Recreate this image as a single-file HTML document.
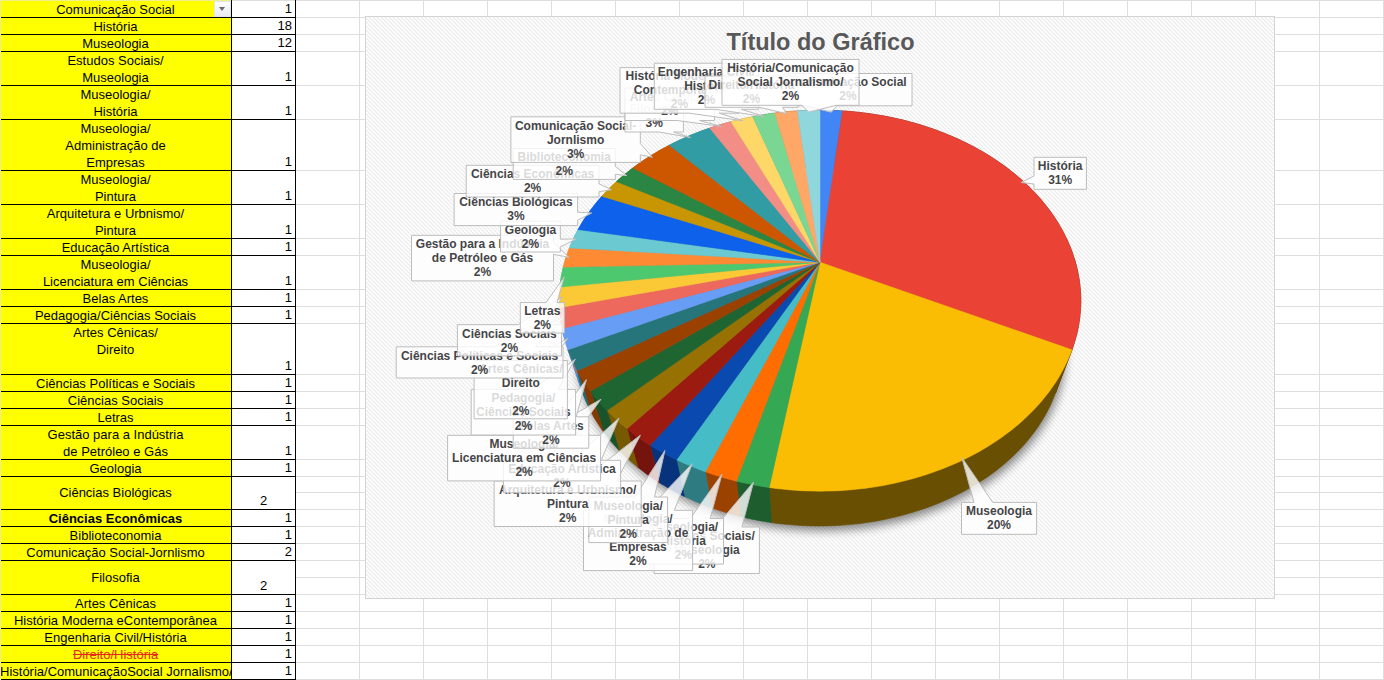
<!DOCTYPE html>
<html><head><meta charset="utf-8"><title>Planilha</title>
<style>
html,body{margin:0;padding:0;background:#fff;}
body{width:1384px;height:680px;position:relative;overflow:hidden;font-family:"Liberation Sans",Arial,sans-serif;}
.g{position:absolute;background:#dedede;}
.ca{position:absolute;left:0;width:231px;background:#ffff00;overflow:hidden;text-align:center;font-size:13px;line-height:17px;color:#000;white-space:nowrap;}
.ca span{display:block;height:17px;}
.cb{position:absolute;left:232px;width:63px;background:#fff;font-size:13px;line-height:17px;color:#000;}
.cb span{position:absolute;bottom:0;right:3px;height:17px;}
.cb span.m{right:auto;left:0;width:63px;text-align:center;}
.bl{position:absolute;background:#000;}
svg{position:absolute;left:0;top:0;}
svg text{font-family:"Liberation Sans",Arial,sans-serif;}
</style></head><body>

<div class="g" style="left:0;top:0px;width:1384px;height:1px"></div>
<div class="g" style="left:0;top:17px;width:1384px;height:1px"></div>
<div class="g" style="left:0;top:34px;width:1384px;height:1px"></div>
<div class="g" style="left:0;top:51px;width:1384px;height:1px"></div>
<div class="g" style="left:0;top:85px;width:1384px;height:1px"></div>
<div class="g" style="left:0;top:119px;width:1384px;height:1px"></div>
<div class="g" style="left:0;top:170px;width:1384px;height:1px"></div>
<div class="g" style="left:0;top:204px;width:1384px;height:1px"></div>
<div class="g" style="left:0;top:238px;width:1384px;height:1px"></div>
<div class="g" style="left:0;top:255px;width:1384px;height:1px"></div>
<div class="g" style="left:0;top:289px;width:1384px;height:1px"></div>
<div class="g" style="left:0;top:306px;width:1384px;height:1px"></div>
<div class="g" style="left:0;top:323px;width:1384px;height:1px"></div>
<div class="g" style="left:0;top:374px;width:1384px;height:1px"></div>
<div class="g" style="left:0;top:391px;width:1384px;height:1px"></div>
<div class="g" style="left:0;top:408px;width:1384px;height:1px"></div>
<div class="g" style="left:0;top:425px;width:1384px;height:1px"></div>
<div class="g" style="left:0;top:459px;width:1384px;height:1px"></div>
<div class="g" style="left:0;top:476px;width:1384px;height:1px"></div>
<div class="g" style="left:0;top:492px;width:1384px;height:1px"></div>
<div class="g" style="left:0;top:509px;width:1384px;height:1px"></div>
<div class="g" style="left:0;top:526px;width:1384px;height:1px"></div>
<div class="g" style="left:0;top:543px;width:1384px;height:1px"></div>
<div class="g" style="left:0;top:560px;width:1384px;height:1px"></div>
<div class="g" style="left:0;top:577px;width:1384px;height:1px"></div>
<div class="g" style="left:0;top:594px;width:1384px;height:1px"></div>
<div class="g" style="left:0;top:611px;width:1384px;height:1px"></div>
<div class="g" style="left:0;top:628px;width:1384px;height:1px"></div>
<div class="g" style="left:0;top:645px;width:1384px;height:1px"></div>
<div class="g" style="left:0;top:662px;width:1384px;height:1px"></div>
<div class="g" style="left:0;top:679px;width:1384px;height:1px"></div>
<div class="g" style="left:359px;top:0;width:1px;height:680px"></div>
<div class="g" style="left:423px;top:0;width:1px;height:680px"></div>
<div class="g" style="left:487px;top:0;width:1px;height:680px"></div>
<div class="g" style="left:551px;top:0;width:1px;height:680px"></div>
<div class="g" style="left:615px;top:0;width:1px;height:680px"></div>
<div class="g" style="left:679px;top:0;width:1px;height:680px"></div>
<div class="g" style="left:743px;top:0;width:1px;height:680px"></div>
<div class="g" style="left:807px;top:0;width:1px;height:680px"></div>
<div class="g" style="left:871px;top:0;width:1px;height:680px"></div>
<div class="g" style="left:935px;top:0;width:1px;height:680px"></div>
<div class="g" style="left:999px;top:0;width:1px;height:680px"></div>
<div class="g" style="left:1063px;top:0;width:1px;height:680px"></div>
<div class="g" style="left:1127px;top:0;width:1px;height:680px"></div>
<div class="g" style="left:1191px;top:0;width:1px;height:680px"></div>
<div class="g" style="left:1255px;top:0;width:1px;height:680px"></div>
<div class="g" style="left:1319px;top:0;width:1px;height:680px"></div>
<div class="g" style="left:1383px;top:0;width:1px;height:680px"></div>
<div class="ca" style="top:1px;height:16px;"><span>Comunicação Social</span></div>
<div class="cb" style="top:1px;height:16px;"><span>1</span></div>
<div class="ca" style="top:18px;height:16px;"><span>História</span></div>
<div class="cb" style="top:18px;height:16px;"><span>18</span></div>
<div class="ca" style="top:35px;height:16px;"><span>Museologia</span></div>
<div class="cb" style="top:35px;height:16px;"><span>12</span></div>
<div class="ca" style="top:52px;height:33px;"><span>Estudos Sociais/</span><span>Museologia</span></div>
<div class="cb" style="top:52px;height:33px;"><span>1</span></div>
<div class="ca" style="top:86px;height:33px;"><span>Museologia/</span><span>História</span></div>
<div class="cb" style="top:86px;height:33px;"><span>1</span></div>
<div class="ca" style="top:120px;height:50px;"><span>Museologia/</span><span>Administração de</span><span>Empresas</span></div>
<div class="cb" style="top:120px;height:50px;"><span>1</span></div>
<div class="ca" style="top:171px;height:33px;"><span>Museologia/</span><span>Pintura</span></div>
<div class="cb" style="top:171px;height:33px;"><span>1</span></div>
<div class="ca" style="top:205px;height:33px;"><span>Arquitetura e Urbnismo/</span><span>Pintura</span></div>
<div class="cb" style="top:205px;height:33px;"><span>1</span></div>
<div class="ca" style="top:239px;height:16px;"><span>Educação Artística</span></div>
<div class="cb" style="top:239px;height:16px;"><span>1</span></div>
<div class="ca" style="top:256px;height:33px;"><span>Museologia/</span><span>Licenciatura em Ciências</span></div>
<div class="cb" style="top:256px;height:33px;"><span>1</span></div>
<div class="ca" style="top:290px;height:16px;"><span>Belas Artes</span></div>
<div class="cb" style="top:290px;height:16px;"><span>1</span></div>
<div class="ca" style="top:307px;height:16px;"><span>Pedagogia/Ciências Sociais</span></div>
<div class="cb" style="top:307px;height:16px;"><span>1</span></div>
<div class="ca" style="top:324px;height:50px;"><span>Artes Cênicas/</span><span>Direito</span><span>&nbsp;</span></div>
<div class="cb" style="top:324px;height:50px;"><span>1</span></div>
<div class="ca" style="top:375px;height:16px;"><span>Ciências Políticas e Sociais</span></div>
<div class="cb" style="top:375px;height:16px;"><span>1</span></div>
<div class="ca" style="top:392px;height:16px;"><span>Ciências Sociais</span></div>
<div class="cb" style="top:392px;height:16px;"><span>1</span></div>
<div class="ca" style="top:409px;height:16px;"><span>Letras</span></div>
<div class="cb" style="top:409px;height:16px;"><span>1</span></div>
<div class="ca" style="top:426px;height:33px;"><span>Gestão para a Indústria</span><span>de Petróleo e Gás</span></div>
<div class="cb" style="top:426px;height:33px;"><span>1</span></div>
<div class="ca" style="top:460px;height:16px;"><span>Geologia</span></div>
<div class="cb" style="top:460px;height:16px;"><span>1</span></div>
<div class="ca" style="top:477px;height:32px;"><span style="margin-top:7px">Ciências Biológicas</span></div>
<div class="cb" style="top:477px;height:32px;"><span class="m">2</span></div>
<div class="ca" style="top:510px;height:16px;font-weight:bold;"><span>Ciências Econômicas</span></div>
<div class="cb" style="top:510px;height:16px;"><span>1</span></div>
<div class="ca" style="top:527px;height:16px;"><span>Biblioteconomia</span></div>
<div class="cb" style="top:527px;height:16px;"><span>1</span></div>
<div class="ca" style="top:544px;height:16px;"><span>Comunicação Social-Jornlismo</span></div>
<div class="cb" style="top:544px;height:16px;"><span>2</span></div>
<div class="ca" style="top:561px;height:33px;"><span style="margin-top:8px">Filosofia</span></div>
<div class="cb" style="top:561px;height:33px;"><span class="m">2</span></div>
<div class="ca" style="top:595px;height:16px;"><span>Artes Cênicas</span></div>
<div class="cb" style="top:595px;height:16px;"><span>1</span></div>
<div class="ca" style="top:612px;height:16px;"><span>História Moderna eContemporânea</span></div>
<div class="cb" style="top:612px;height:16px;"><span>1</span></div>
<div class="ca" style="top:629px;height:16px;"><span>Engenharia Civil/História</span></div>
<div class="cb" style="top:629px;height:16px;"><span>1</span></div>
<div class="ca" style="top:646px;height:16px;"><span style="color:#e8261c;text-decoration:line-through">Direito/História</span></div>
<div class="cb" style="top:646px;height:16px;"><span>1</span></div>
<div class="ca" style="top:663px;height:16px;"><span>História/ComunicaçãoSocial Jornalismo/</span></div>
<div class="cb" style="top:663px;height:16px;"><span>1</span></div>
<div class="bl" style="left:0;top:17px;width:296px;height:1px"></div>
<div class="bl" style="left:0;top:34px;width:296px;height:1px"></div>
<div class="bl" style="left:0;top:51px;width:296px;height:1px"></div>
<div class="bl" style="left:0;top:85px;width:296px;height:1px"></div>
<div class="bl" style="left:0;top:119px;width:296px;height:1px"></div>
<div class="bl" style="left:0;top:170px;width:296px;height:1px"></div>
<div class="bl" style="left:0;top:204px;width:296px;height:1px"></div>
<div class="bl" style="left:0;top:238px;width:296px;height:1px"></div>
<div class="bl" style="left:0;top:255px;width:296px;height:1px"></div>
<div class="bl" style="left:0;top:289px;width:296px;height:1px"></div>
<div class="bl" style="left:0;top:306px;width:296px;height:1px"></div>
<div class="bl" style="left:0;top:323px;width:296px;height:1px"></div>
<div class="bl" style="left:0;top:374px;width:296px;height:1px"></div>
<div class="bl" style="left:0;top:391px;width:296px;height:1px"></div>
<div class="bl" style="left:0;top:408px;width:296px;height:1px"></div>
<div class="bl" style="left:0;top:425px;width:296px;height:1px"></div>
<div class="bl" style="left:0;top:459px;width:296px;height:1px"></div>
<div class="bl" style="left:0;top:476px;width:296px;height:1px"></div>
<div class="bl" style="left:0;top:509px;width:296px;height:1px"></div>
<div class="bl" style="left:0;top:526px;width:296px;height:1px"></div>
<div class="bl" style="left:0;top:543px;width:296px;height:1px"></div>
<div class="bl" style="left:0;top:560px;width:296px;height:1px"></div>
<div class="bl" style="left:0;top:594px;width:296px;height:1px"></div>
<div class="bl" style="left:0;top:611px;width:296px;height:1px"></div>
<div class="bl" style="left:0;top:628px;width:296px;height:1px"></div>
<div class="bl" style="left:0;top:645px;width:296px;height:1px"></div>
<div class="bl" style="left:0;top:662px;width:296px;height:1px"></div>
<div class="bl" style="left:0;top:679px;width:296px;height:1px"></div>
<div class="bl" style="left:231px;top:0;width:1px;height:680px"></div>
<div class="bl" style="left:295px;top:0;width:1px;height:680px"></div>
<div style="position:absolute;left:214px;top:1px;width:17px;height:16px;background:linear-gradient(#ffffff,#e9ebf0);border:1px solid #e3e5ea;box-sizing:border-box"></div>
<div style="position:absolute;left:219px;top:7px;width:0;height:0;border-left:3.5px solid transparent;border-right:3.5px solid transparent;border-top:4px solid #6a6a6a"></div><div style="position:absolute;left:0;top:0;width:1px;height:680px;background:#e9e9a8"></div><div style="position:absolute;left:0;top:0;width:231px;height:1px;background:#f1f18a"></div>
<svg width="1384" height="680" viewBox="0 0 1384 680">
<defs>
<pattern id="hatch" width="4" height="4" patternUnits="userSpaceOnUse">
<rect width="4" height="4" fill="#ffffff"/>
<path d="M-1,-1 L5,5 M-1,3 L1,5 M3,-1 L5,1" stroke="#ebebeb" stroke-width="1.2"/>
</pattern>
<filter id="sh" x="-20%" y="-20%" width="140%" height="140%"><feGaussianBlur stdDeviation="5"/></filter>
</defs>
<rect x="365.5" y="16.5" width="909" height="582" fill="url(#hatch)" stroke="#d4d4d4" stroke-width="1"/>
<path d="M821.0,173.6 L828.0,173.7 L834.9,173.9 L841.9,174.3 L848.8,174.8 L855.7,175.4 L862.6,176.2 L869.5,177.2 L876.3,178.3 L883.1,179.5 L889.9,180.9 L896.6,182.4 L903.3,184.0 L909.9,185.8 L916.4,187.8 L922.9,189.9 L929.4,192.1 L935.7,194.5 L942.0,197.0 L948.2,199.7 L954.3,202.5 L960.4,205.5 L966.3,208.6 L972.1,211.8 L977.8,215.2 L983.4,218.7 L988.9,222.4 L994.2,226.2 L999.4,230.1 L1004.5,234.2 L1009.4,238.4 L1014.2,242.7 L1018.8,247.2 L1023.2,251.8 L1027.5,256.5 L1031.6,261.4 L1035.4,266.4 L1039.1,271.5 L1042.6,276.7 L1045.9,282.0 L1048.9,287.5 L1051.7,293.0 L1054.3,298.7 L1056.7,304.4 L1058.7,310.3 L1060.6,316.2 L1062.1,322.2 L1063.4,328.3 L1064.4,334.5 L1065.1,340.7 L1065.5,347.0 L1065.6,353.4 L1065.4,359.8 L1064.9,366.2 L1064.0,372.7 L1062.8,379.2 L1061.3,385.7 L1059.5,392.1 L1057.3,398.6 L1054.7,405.1 L1051.8,411.5 L1048.5,417.9 L1044.9,424.2 L1040.9,430.5 L1036.6,436.7 L1031.9,442.8 L1026.9,448.8 L1021.5,454.7 L1015.7,460.4 L1009.6,466.1 L1003.2,471.5 L996.4,476.8 L989.3,481.9 L981.9,486.9 L974.2,491.6 L966.2,496.1 L957.9,500.4 L949.3,504.4 L940.5,508.2 L931.4,511.7 L922.1,515.0 L912.6,518.0 L903.0,520.7 L893.1,523.0 L883.1,525.1 L872.9,526.9 L862.7,528.4 L852.3,529.5 L841.9,530.3 L831.5,530.8 L821.0,531.0 L810.5,530.8 L800.1,530.3 L789.7,529.5 L779.3,528.4 L769.1,526.9 L758.9,525.1 L748.9,523.0 L739.0,520.7 L729.4,518.0 L719.9,515.0 L710.6,511.7 L701.5,508.2 L692.7,504.4 L684.1,500.4 L675.8,496.1 L667.8,491.6 L660.1,486.9 L652.7,481.9 L645.6,476.8 L638.8,471.5 L632.4,466.1 L626.3,460.4 L620.5,454.7 L615.1,448.8 L610.1,442.8 L605.4,436.7 L601.1,430.5 L597.1,424.2 L593.5,417.9 L590.2,411.5 L587.3,405.1 L584.7,398.6 L582.5,392.1 L580.7,385.7 L579.2,379.2 L578.0,372.7 L577.1,366.2 L576.6,359.8 L576.4,353.4 L576.5,347.0 L576.9,340.7 L577.6,334.5 L578.6,328.3 L579.9,322.2 L581.4,316.2 L583.3,310.3 L585.3,304.4 L587.7,298.7 L590.3,293.0 L593.1,287.5 L596.1,282.0 L599.4,276.7 L602.9,271.5 L606.6,266.4 L610.4,261.4 L614.5,256.5 L618.8,251.8 L623.2,247.2 L627.8,242.7 L632.6,238.4 L637.5,234.2 L642.6,230.1 L647.8,226.2 L653.1,222.4 L658.6,218.7 L664.2,215.2 L669.9,211.8 L675.7,208.6 L681.6,205.5 L687.7,202.5 L693.8,199.7 L700.0,197.0 L706.3,194.5 L712.6,192.1 L719.1,189.9 L725.6,187.8 L732.1,185.8 L738.7,184.0 L745.4,182.4 L752.1,180.9 L758.9,179.5 L765.7,178.3 L772.5,177.2 L779.4,176.2 L786.3,175.4 L793.2,174.8 L800.1,174.3 L807.1,173.9 L814.0,173.7Z" fill="#000" opacity="0.45" filter="url(#sh)"/>
<path d="M820.0,110.2 L823.8,110.2 L827.5,110.3 L831.3,110.4 L835.1,110.5 L838.8,110.7 L842.6,110.9 L840.2,169.3 L836.7,169.1 L833.1,168.9 L829.6,168.8 L826.1,168.7 L822.5,168.7 L819.0,168.6Z" fill="#1c3867" stroke="#1c3867" stroke-width="0.6"/>
<path d="M842.6,110.9 L846.8,111.2 L851.1,111.6 L855.3,112.0 L859.5,112.4 L863.7,112.9 L867.9,113.5 L872.1,114.1 L876.2,114.7 L880.4,115.4 L884.5,116.1 L888.7,116.9 L892.8,117.8 L896.9,118.7 L901.0,119.6 L905.1,120.6 L909.1,121.7 L913.2,122.8 L917.2,123.9 L921.2,125.1 L925.2,126.4 L929.1,127.7 L933.0,129.0 L937.0,130.4 L940.8,131.9 L944.7,133.4 L948.5,135.0 L952.3,136.6 L956.1,138.2 L959.8,139.9 L963.5,141.7 L967.2,143.5 L970.8,145.3 L974.4,147.2 L978.0,149.2 L981.5,151.2 L985.0,153.2 L988.5,155.3 L991.9,157.5 L995.3,159.7 L998.6,161.9 L1001.9,164.2 L1005.1,166.5 L1008.3,168.9 L1011.4,171.4 L1014.5,173.8 L1017.6,176.4 L1020.6,178.9 L1023.5,181.6 L1026.4,184.2 L1029.2,187.0 L1031.9,189.7 L1034.7,192.5 L1037.3,195.4 L1039.9,198.3 L1042.4,201.2 L1044.8,204.2 L1047.2,207.2 L1049.5,210.3 L1051.8,213.4 L1054.0,216.6 L1056.1,219.8 L1058.1,223.0 L1060.0,226.3 L1061.9,229.6 L1063.7,232.9 L1065.4,236.3 L1067.1,239.7 L1068.6,243.2 L1070.1,246.7 L1071.5,250.2 L1072.7,253.8 L1073.9,257.4 L1075.1,261.0 L1076.1,264.6 L1077.0,268.3 L1077.8,272.0 L1078.5,275.8 L1079.2,279.5 L1079.7,283.3 L1080.1,287.1 L1080.4,290.9 L1080.7,294.8 L1080.8,298.7 L1080.8,302.5 L1080.7,306.4 L1080.4,310.4 L1080.1,314.3 L1079.7,318.2 L1079.1,322.2 L1078.5,326.1 L1077.7,330.1 L1076.8,334.0 L1075.7,338.0 L1074.6,341.9 L1073.3,345.9 L1072.0,349.8 L1055.3,393.4 L1056.6,389.7 L1057.8,386.0 L1058.9,382.3 L1059.8,378.6 L1060.7,374.9 L1061.4,371.1 L1062.1,367.4 L1062.6,363.7 L1063.0,360.0 L1063.3,356.4 L1063.5,352.7 L1063.6,349.0 L1063.6,345.4 L1063.5,341.8 L1063.3,338.2 L1063.0,334.6 L1062.6,331.0 L1062.1,327.5 L1061.5,323.9 L1060.8,320.4 L1060.1,316.9 L1059.2,313.5 L1058.2,310.1 L1057.2,306.7 L1056.1,303.3 L1054.9,300.0 L1053.6,296.6 L1052.2,293.4 L1050.7,290.1 L1049.2,286.9 L1047.6,283.7 L1045.9,280.6 L1044.2,277.5 L1042.3,274.4 L1040.4,271.4 L1038.5,268.4 L1036.4,265.4 L1034.3,262.5 L1032.1,259.6 L1029.9,256.8 L1027.6,254.0 L1025.2,251.2 L1022.8,248.5 L1020.3,245.8 L1017.8,243.2 L1015.2,240.6 L1012.6,238.1 L1009.9,235.6 L1007.1,233.1 L1004.3,230.7 L1001.5,228.3 L998.6,226.0 L995.6,223.7 L992.6,221.5 L989.6,219.3 L986.5,217.1 L983.4,215.0 L980.2,213.0 L977.0,210.9 L973.8,209.0 L970.5,207.0 L967.2,205.2 L963.9,203.3 L960.5,201.6 L957.1,199.8 L953.6,198.1 L950.2,196.5 L946.6,194.9 L943.1,193.3 L939.5,191.8 L936.0,190.4 L932.3,189.0 L928.7,187.6 L925.0,186.3 L921.4,185.0 L917.6,183.8 L913.9,182.6 L910.2,181.5 L906.4,180.4 L902.6,179.4 L898.8,178.4 L895.0,177.5 L891.1,176.6 L887.3,175.7 L883.4,174.9 L879.5,174.2 L875.6,173.5 L871.7,172.8 L867.8,172.2 L863.9,171.7 L860.0,171.2 L856.0,170.7 L852.1,170.3 L848.1,169.9 L844.2,169.6 L840.2,169.3Z" fill="#621c16" stroke="#621c16" stroke-width="0.6"/>
<path d="M1072.0,349.8 L1070.4,353.8 L1068.8,357.7 L1067.1,361.6 L1065.2,365.6 L1063.2,369.4 L1061.1,373.3 L1058.8,377.2 L1056.5,381.0 L1054.0,384.8 L1051.3,388.6 L1048.6,392.4 L1045.7,396.1 L1042.7,399.8 L1039.6,403.4 L1036.4,407.0 L1033.0,410.6 L1029.5,414.1 L1025.9,417.6 L1022.2,421.0 L1018.4,424.4 L1014.4,427.7 L1010.3,430.9 L1006.1,434.1 L1001.8,437.3 L997.4,440.3 L992.9,443.3 L988.2,446.2 L983.5,449.1 L978.6,451.9 L973.7,454.6 L968.6,457.2 L963.5,459.7 L958.3,462.2 L952.9,464.6 L947.5,466.8 L942.0,469.0 L936.4,471.1 L930.8,473.1 L925.1,475.0 L919.3,476.8 L913.4,478.5 L907.5,480.1 L901.5,481.6 L895.4,483.0 L889.3,484.3 L883.2,485.5 L877.0,486.6 L870.8,487.5 L864.5,488.4 L858.2,489.1 L851.9,489.7 L845.5,490.3 L839.2,490.7 L832.8,490.9 L826.4,491.1 L820.0,491.2 L813.6,491.1 L807.2,490.9 L800.8,490.7 L794.5,490.3 L788.1,489.7 L781.8,489.1 L775.5,488.4 L769.2,487.5 L771.4,522.6 L777.3,523.4 L783.2,524.1 L789.1,524.6 L795.1,525.1 L801.0,525.5 L807.0,525.8 L813.0,525.9 L819.0,526.0 L825.0,525.9 L831.0,525.8 L837.0,525.5 L842.9,525.1 L848.9,524.6 L854.8,524.1 L860.7,523.4 L866.6,522.6 L872.4,521.7 L878.3,520.7 L884.0,519.6 L889.7,518.3 L895.4,517.0 L901.0,515.6 L906.6,514.1 L912.1,512.5 L917.5,510.8 L922.9,509.1 L928.2,507.2 L933.5,505.2 L938.6,503.2 L943.7,501.0 L948.7,498.8 L953.6,496.5 L958.4,494.1 L963.2,491.7 L967.8,489.1 L972.3,486.5 L976.8,483.8 L981.1,481.1 L985.4,478.3 L989.5,475.4 L993.6,472.5 L997.5,469.5 L1001.3,466.4 L1005.1,463.3 L1008.7,460.1 L1012.2,456.9 L1015.5,453.7 L1018.8,450.4 L1022.0,447.0 L1025.0,443.7 L1027.9,440.2 L1030.7,436.8 L1033.4,433.3 L1036.0,429.8 L1038.5,426.2 L1040.8,422.6 L1043.0,419.1 L1045.1,415.4 L1047.1,411.8 L1049.0,408.1 L1050.8,404.5 L1052.4,400.8 L1053.9,397.1 L1055.3,393.4Z" fill="#694f02" stroke="#694f02" stroke-width="0.6"/>
<path d="M769.2,487.5 L763.7,486.7 L758.2,485.7 L752.7,484.7 L747.3,483.6 L741.9,482.4 L736.5,481.2 L740.7,516.6 L745.7,517.8 L750.8,518.9 L755.9,519.9 L761.0,520.9 L766.2,521.8 L771.4,522.6Z" fill="#1d5d2e" stroke="#1d5d2e" stroke-width="0.6"/>
<path d="M736.5,481.2 L731.2,479.8 L726.0,478.4 L720.7,476.8 L715.6,475.2 L710.5,473.6 L705.4,471.8 L711.5,507.8 L716.3,509.5 L721.1,511.0 L725.9,512.5 L730.8,514.0 L735.7,515.3 L740.7,516.6Z" fill="#9b4201" stroke="#9b4201" stroke-width="0.6"/>
<path d="M705.4,471.8 L700.4,470.0 L695.5,468.1 L690.7,466.1 L685.9,464.1 L681.2,461.9 L676.5,459.7 L684.4,496.5 L688.8,498.5 L693.2,500.5 L697.7,502.5 L702.2,504.3 L706.9,506.1 L711.5,507.8Z" fill="#2e7c82" stroke="#2e7c82" stroke-width="0.6"/>
<path d="M676.5,459.7 L671.9,457.5 L667.4,455.2 L663.0,452.8 L658.7,450.3 L654.4,447.8 L650.2,445.3 L659.7,482.9 L663.7,485.3 L667.7,487.7 L671.7,490.0 L675.9,492.2 L680.1,494.4 L684.4,496.5Z" fill="#07337c" stroke="#07337c" stroke-width="0.6"/>
<path d="M650.2,445.3 L646.1,442.7 L642.1,440.0 L638.2,437.3 L634.4,434.5 L630.6,431.6 L627.0,428.8 L637.9,467.4 L641.4,470.1 L644.9,472.8 L648.5,475.4 L652.1,478.0 L655.9,480.5 L659.7,482.9Z" fill="#75140c" stroke="#75140c" stroke-width="0.6"/>
<path d="M627.0,428.8 L623.4,425.8 L619.9,422.9 L616.5,419.9 L613.3,416.8 L610.1,413.7 L607.0,410.6 L619.2,450.4 L622.1,453.3 L625.1,456.2 L628.2,459.1 L631.3,461.9 L634.6,464.7 L637.9,467.4Z" fill="#775902" stroke="#775902" stroke-width="0.6"/>
<path d="M607.0,410.6 L604.0,407.4 L601.1,404.2 L598.3,401.0 L595.6,397.7 L593.0,394.4 L590.5,391.1 L603.7,432.1 L606.1,435.2 L608.5,438.3 L611.0,441.4 L613.7,444.4 L616.4,447.4 L619.2,450.4Z" fill="#1a5329" stroke="#1a5329" stroke-width="0.6"/>
<path d="M590.5,391.1 L588.1,387.8 L585.7,384.4 L583.5,381.0 L581.4,377.6 L579.4,374.2 L577.5,370.7 L591.5,413.0 L593.3,416.2 L595.2,419.5 L597.2,422.6 L599.3,425.8 L601.4,429.0 L603.7,432.1Z" fill="#843800" stroke="#843800" stroke-width="0.6"/>
<path d="M577.5,370.7 L575.7,367.3 L574.0,363.8 L572.3,360.3 L570.8,356.8 L569.4,353.3 L568.0,349.8 L582.7,393.4 L583.9,396.7 L585.3,400.0 L586.7,403.3 L588.2,406.5 L589.8,409.8 L591.5,413.0Z" fill="#22686d" stroke="#22686d" stroke-width="0.6"/>
<path d="M568.0,349.8 L566.8,346.3 L565.7,342.8 L564.6,339.3 L563.7,335.8 L562.8,332.3 L562.1,328.7 L577.1,373.6 L577.8,376.9 L578.6,380.2 L579.5,383.5 L580.4,386.8 L581.5,390.1 L582.7,393.4Z" fill="#5f8fe0" stroke="#5f8fe0" stroke-width="0.6"/>
<path d="M562.1,328.7 L561.4,325.2 L560.8,321.7 L560.3,318.2 L559.9,314.7 L559.6,311.2 L559.4,307.7 L574.6,353.9 L574.8,357.2 L575.1,360.5 L575.4,363.7 L575.9,367.0 L576.4,370.3 L577.1,373.6Z" fill="#db6056" stroke="#db6056" stroke-width="0.6"/>
<path d="M559.4,307.7 L559.3,304.3 L559.2,300.8 L559.3,297.4 L559.4,293.9 L559.6,290.5 L559.9,287.1 L575.0,334.6 L574.7,337.8 L574.5,341.0 L574.4,344.2 L574.4,347.4 L574.4,350.7 L574.6,353.9Z" fill="#e8b932" stroke="#e8b932" stroke-width="0.6"/>
<path d="M559.9,287.1 L560.3,283.7 L560.7,280.4 L561.2,277.0 L561.9,273.7 L562.5,270.4 L563.3,267.1 L578.2,315.8 L577.5,318.9 L576.9,322.0 L576.3,325.1 L575.8,328.2 L575.4,331.4 L575.0,334.6Z" fill="#48b866" stroke="#48b866" stroke-width="0.6"/>
<path d="M563.3,267.1 L564.2,263.8 L565.1,260.6 L566.1,257.4 L567.1,254.2 L568.3,251.0 L569.5,247.9 L584.0,297.7 L582.9,300.7 L581.8,303.7 L580.8,306.7 L579.9,309.7 L579.0,312.7 L578.2,315.8Z" fill="#eb7f30" stroke="#eb7f30" stroke-width="0.6"/>
<path d="M569.5,247.9 L570.7,244.7 L572.1,241.6 L573.5,238.6 L574.9,235.6 L576.5,232.5 L578.1,229.6 L592.1,280.6 L590.6,283.4 L589.1,286.2 L587.8,289.0 L586.4,291.9 L585.2,294.8 L584.0,297.7Z" fill="#62bac1" stroke="#62bac1" stroke-width="0.6"/>
<path d="M578.1,229.6 L579.9,226.4 L581.8,223.2 L583.7,220.0 L585.8,216.9 L587.9,213.9 L590.0,210.9 L592.3,207.9 L594.6,204.9 L596.9,202.0 L599.4,199.2 L601.8,196.3 L614.4,249.4 L612.0,252.1 L609.8,254.8 L607.6,257.5 L605.4,260.2 L603.3,263.0 L601.3,265.9 L599.3,268.7 L597.4,271.7 L595.6,274.6 L593.8,277.6 L592.1,280.6Z" fill="#0d59d8" stroke="#0d59d8" stroke-width="0.6"/>
<path d="M601.8,196.3 L604.2,193.8 L606.5,191.3 L609.0,188.8 L611.4,186.3 L614.0,183.9 L616.5,181.6 L628.1,235.6 L625.7,237.8 L623.4,240.1 L621.1,242.3 L618.8,244.7 L616.5,247.0 L614.4,249.4Z" fill="#b58703" stroke="#b58703" stroke-width="0.6"/>
<path d="M616.5,181.6 L619.1,179.2 L621.8,176.9 L624.5,174.7 L627.2,172.5 L629.9,170.3 L632.8,168.1 L643.4,222.9 L640.7,225.0 L638.1,227.0 L635.6,229.1 L633.1,231.2 L630.6,233.4 L628.1,235.6Z" fill="#24753a" stroke="#24753a" stroke-width="0.6"/>
<path d="M632.8,168.1 L635.9,165.8 L639.0,163.6 L642.2,161.3 L645.4,159.2 L648.7,157.1 L652.0,155.0 L655.4,153.0 L658.8,151.0 L662.2,149.0 L665.7,147.2 L669.2,145.3 L677.5,201.6 L674.2,203.3 L671.0,205.1 L667.8,206.9 L664.6,208.7 L661.4,210.6 L658.3,212.6 L655.3,214.6 L652.2,216.6 L649.2,218.7 L646.3,220.8 L643.4,222.9Z" fill="#a94800" stroke="#a94800" stroke-width="0.6"/>
<path d="M669.2,145.3 L672.7,143.5 L676.2,141.8 L679.8,140.1 L683.5,138.4 L687.1,136.8 L690.8,135.2 L694.5,133.7 L698.2,132.3 L702.0,130.8 L705.8,129.5 L709.6,128.1 L715.4,185.4 L711.8,186.7 L708.3,188.0 L704.8,189.3 L701.3,190.7 L697.8,192.1 L694.4,193.6 L690.9,195.1 L687.5,196.6 L684.2,198.2 L680.8,199.9 L677.5,201.6Z" fill="#26757b" stroke="#26757b" stroke-width="0.6"/>
<path d="M709.6,128.1 L713.1,127.0 L716.6,125.8 L720.1,124.7 L723.7,123.7 L727.3,122.7 L730.9,121.7 L735.4,179.4 L732.0,180.3 L728.7,181.3 L725.3,182.3 L722.0,183.3 L718.7,184.3 L715.4,185.4Z" fill="#a5615b" stroke="#a5615b" stroke-width="0.6"/>
<path d="M730.9,121.7 L734.5,120.8 L738.1,119.9 L741.7,119.0 L745.4,118.2 L749.0,117.4 L752.7,116.7 L755.9,174.7 L752.4,175.4 L749.0,176.1 L745.6,176.9 L742.2,177.7 L738.8,178.5 L735.4,179.4Z" fill="#a08842" stroke="#a08842" stroke-width="0.6"/>
<path d="M752.7,116.7 L756.4,116.0 L760.1,115.3 L763.8,114.7 L767.5,114.1 L771.2,113.6 L774.9,113.1 L776.7,171.3 L773.2,171.8 L769.7,172.3 L766.3,172.8 L762.8,173.4 L759.3,174.0 L755.9,174.7Z" fill="#477c55" stroke="#477c55" stroke-width="0.6"/>
<path d="M774.9,113.1 L778.6,112.6 L782.4,112.2 L786.1,111.8 L789.9,111.5 L793.6,111.2 L797.4,110.9 L797.8,169.3 L794.3,169.6 L790.7,169.8 L787.2,170.2 L783.7,170.5 L780.2,170.9 L776.7,171.3Z" fill="#875936" stroke="#875936" stroke-width="0.6"/>
<path d="M797.4,110.9 L801.2,110.7 L804.9,110.5 L808.7,110.4 L812.5,110.3 L816.2,110.2 L820.0,110.2 L819.0,168.6 L815.5,168.7 L811.9,168.7 L808.4,168.8 L804.9,168.9 L801.3,169.1 L797.8,169.3Z" fill="#456769" stroke="#456769" stroke-width="0.6"/>
<path d="M820.0,262.2 L820.0,110.2 L823.8,110.2 L827.5,110.3 L831.3,110.4 L835.1,110.5 L838.8,110.7 L842.6,110.9Z" fill="#4285f4" stroke="#4285f4" stroke-width="0.5"/>
<path d="M820.0,262.2 L842.6,110.9 L846.8,111.2 L851.1,111.6 L855.3,112.0 L859.5,112.4 L863.7,112.9 L867.9,113.5 L872.1,114.1 L876.2,114.7 L880.4,115.4 L884.5,116.1 L888.7,116.9 L892.8,117.8 L896.9,118.7 L901.0,119.6 L905.1,120.6 L909.1,121.7 L913.2,122.8 L917.2,123.9 L921.2,125.1 L925.2,126.4 L929.1,127.7 L933.0,129.0 L937.0,130.4 L940.8,131.9 L944.7,133.4 L948.5,135.0 L952.3,136.6 L956.1,138.2 L959.8,139.9 L963.5,141.7 L967.2,143.5 L970.8,145.3 L974.4,147.2 L978.0,149.2 L981.5,151.2 L985.0,153.2 L988.5,155.3 L991.9,157.5 L995.3,159.7 L998.6,161.9 L1001.9,164.2 L1005.1,166.5 L1008.3,168.9 L1011.4,171.4 L1014.5,173.8 L1017.6,176.4 L1020.6,178.9 L1023.5,181.6 L1026.4,184.2 L1029.2,187.0 L1031.9,189.7 L1034.7,192.5 L1037.3,195.4 L1039.9,198.3 L1042.4,201.2 L1044.8,204.2 L1047.2,207.2 L1049.5,210.3 L1051.8,213.4 L1054.0,216.6 L1056.1,219.8 L1058.1,223.0 L1060.0,226.3 L1061.9,229.6 L1063.7,232.9 L1065.4,236.3 L1067.1,239.7 L1068.6,243.2 L1070.1,246.7 L1071.5,250.2 L1072.7,253.8 L1073.9,257.4 L1075.1,261.0 L1076.1,264.6 L1077.0,268.3 L1077.8,272.0 L1078.5,275.8 L1079.2,279.5 L1079.7,283.3 L1080.1,287.1 L1080.4,290.9 L1080.7,294.8 L1080.8,298.7 L1080.8,302.5 L1080.7,306.4 L1080.4,310.4 L1080.1,314.3 L1079.7,318.2 L1079.1,322.2 L1078.5,326.1 L1077.7,330.1 L1076.8,334.0 L1075.7,338.0 L1074.6,341.9 L1073.3,345.9 L1072.0,349.8Z" fill="#ea4335" stroke="#ea4335" stroke-width="0.5"/>
<path d="M820.0,262.2 L1072.0,349.8 L1070.4,353.8 L1068.8,357.7 L1067.1,361.6 L1065.2,365.6 L1063.2,369.4 L1061.1,373.3 L1058.8,377.2 L1056.5,381.0 L1054.0,384.8 L1051.3,388.6 L1048.6,392.4 L1045.7,396.1 L1042.7,399.8 L1039.6,403.4 L1036.4,407.0 L1033.0,410.6 L1029.5,414.1 L1025.9,417.6 L1022.2,421.0 L1018.4,424.4 L1014.4,427.7 L1010.3,430.9 L1006.1,434.1 L1001.8,437.3 L997.4,440.3 L992.9,443.3 L988.2,446.2 L983.5,449.1 L978.6,451.9 L973.7,454.6 L968.6,457.2 L963.5,459.7 L958.3,462.2 L952.9,464.6 L947.5,466.8 L942.0,469.0 L936.4,471.1 L930.8,473.1 L925.1,475.0 L919.3,476.8 L913.4,478.5 L907.5,480.1 L901.5,481.6 L895.4,483.0 L889.3,484.3 L883.2,485.5 L877.0,486.6 L870.8,487.5 L864.5,488.4 L858.2,489.1 L851.9,489.7 L845.5,490.3 L839.2,490.7 L832.8,490.9 L826.4,491.1 L820.0,491.2 L813.6,491.1 L807.2,490.9 L800.8,490.7 L794.5,490.3 L788.1,489.7 L781.8,489.1 L775.5,488.4 L769.2,487.5Z" fill="#fbbc04" stroke="#fbbc04" stroke-width="0.5"/>
<path d="M820.0,262.2 L769.2,487.5 L763.7,486.7 L758.2,485.7 L752.7,484.7 L747.3,483.6 L741.9,482.4 L736.5,481.2Z" fill="#34a853" stroke="#34a853" stroke-width="0.5"/>
<path d="M820.0,262.2 L736.5,481.2 L731.2,479.8 L726.0,478.4 L720.7,476.8 L715.6,475.2 L710.5,473.6 L705.4,471.8Z" fill="#ff6d01" stroke="#ff6d01" stroke-width="0.5"/>
<path d="M820.0,262.2 L705.4,471.8 L700.4,470.0 L695.5,468.1 L690.7,466.1 L685.9,464.1 L681.2,461.9 L676.5,459.7Z" fill="#46bdc6" stroke="#46bdc6" stroke-width="0.5"/>
<path d="M820.0,262.2 L676.5,459.7 L671.9,457.5 L667.4,455.2 L663.0,452.8 L658.7,450.3 L654.4,447.8 L650.2,445.3Z" fill="#0a49b0" stroke="#0a49b0" stroke-width="0.5"/>
<path d="M820.0,262.2 L650.2,445.3 L646.1,442.7 L642.1,440.0 L638.2,437.3 L634.4,434.5 L630.6,431.6 L627.0,428.8Z" fill="#9c1b10" stroke="#9c1b10" stroke-width="0.5"/>
<path d="M820.0,262.2 L627.0,428.8 L623.4,425.8 L619.9,422.9 L616.5,419.9 L613.3,416.8 L610.1,413.7 L607.0,410.6Z" fill="#977102" stroke="#977102" stroke-width="0.5"/>
<path d="M820.0,262.2 L607.0,410.6 L604.0,407.4 L601.1,404.2 L598.3,401.0 L595.6,397.7 L593.0,394.4 L590.5,391.1Z" fill="#1f6532" stroke="#1f6532" stroke-width="0.5"/>
<path d="M820.0,262.2 L590.5,391.1 L588.1,387.8 L585.7,384.4 L583.5,381.0 L581.4,377.6 L579.4,374.2 L577.5,370.7Z" fill="#9a4100" stroke="#9a4100" stroke-width="0.5"/>
<path d="M820.0,262.2 L577.5,370.7 L575.7,367.3 L574.0,363.8 L572.3,360.3 L570.8,356.8 L569.4,353.3 L568.0,349.8Z" fill="#26757b" stroke="#26757b" stroke-width="0.5"/>
<path d="M820.0,262.2 L568.0,349.8 L566.8,346.3 L565.7,342.8 L564.6,339.3 L563.7,335.8 L562.8,332.3 L562.1,328.7Z" fill="#689df6" stroke="#689df6" stroke-width="0.5"/>
<path d="M820.0,262.2 L562.1,328.7 L561.4,325.2 L560.8,321.7 L560.3,318.2 L559.9,314.7 L559.6,311.2 L559.4,307.7Z" fill="#ee695d" stroke="#ee695d" stroke-width="0.5"/>
<path d="M820.0,262.2 L559.4,307.7 L559.3,304.3 L559.2,300.8 L559.3,297.4 L559.4,293.9 L559.6,290.5 L559.9,287.1Z" fill="#fcc936" stroke="#fcc936" stroke-width="0.5"/>
<path d="M820.0,262.2 L559.9,287.1 L560.3,283.7 L560.7,280.4 L561.2,277.0 L561.9,273.7 L562.5,270.4 L563.3,267.1Z" fill="#4ec86f" stroke="#4ec86f" stroke-width="0.5"/>
<path d="M820.0,262.2 L563.3,267.1 L564.2,263.8 L565.1,260.6 L566.1,257.4 L567.1,254.2 L568.3,251.0 L569.5,247.9Z" fill="#ff8a34" stroke="#ff8a34" stroke-width="0.5"/>
<path d="M820.0,262.2 L569.5,247.9 L570.7,244.7 L572.1,241.6 L573.5,238.6 L574.9,235.6 L576.5,232.5 L578.1,229.6Z" fill="#6bcad1" stroke="#6bcad1" stroke-width="0.5"/>
<path d="M820.0,262.2 L578.1,229.6 L579.9,226.4 L581.8,223.2 L583.7,220.0 L585.8,216.9 L587.9,213.9 L590.0,210.9 L592.3,207.9 L594.6,204.9 L596.9,202.0 L599.4,199.2 L601.8,196.3Z" fill="#0e61ea" stroke="#0e61ea" stroke-width="0.5"/>
<path d="M820.0,262.2 L601.8,196.3 L604.2,193.8 L606.5,191.3 L609.0,188.8 L611.4,186.3 L614.0,183.9 L616.5,181.6Z" fill="#c99603" stroke="#c99603" stroke-width="0.5"/>
<path d="M820.0,262.2 L616.5,181.6 L619.1,179.2 L621.8,176.9 L624.5,174.7 L627.2,172.5 L629.9,170.3 L632.8,168.1Z" fill="#2a8642" stroke="#2a8642" stroke-width="0.5"/>
<path d="M820.0,262.2 L632.8,168.1 L635.9,165.8 L639.0,163.6 L642.2,161.3 L645.4,159.2 L648.7,157.1 L652.0,155.0 L655.4,153.0 L658.8,151.0 L662.2,149.0 L665.7,147.2 L669.2,145.3Z" fill="#cd5700" stroke="#cd5700" stroke-width="0.5"/>
<path d="M820.0,262.2 L669.2,145.3 L672.7,143.5 L676.2,141.8 L679.8,140.1 L683.5,138.4 L687.1,136.8 L690.8,135.2 L694.5,133.7 L698.2,132.3 L702.0,130.8 L705.8,129.5 L709.6,128.1Z" fill="#329ca4" stroke="#329ca4" stroke-width="0.5"/>
<path d="M820.0,262.2 L709.6,128.1 L713.1,127.0 L716.6,125.8 L720.1,124.7 L723.7,123.7 L727.3,122.7 L730.9,121.7Z" fill="#f28e86" stroke="#f28e86" stroke-width="0.5"/>
<path d="M820.0,262.2 L730.9,121.7 L734.5,120.8 L738.1,119.9 L741.7,119.0 L745.4,118.2 L749.0,117.4 L752.7,116.7Z" fill="#fdd768" stroke="#fdd768" stroke-width="0.5"/>
<path d="M820.0,262.2 L752.7,116.7 L756.4,116.0 L760.1,115.3 L763.8,114.7 L767.5,114.1 L771.2,113.6 L774.9,113.1Z" fill="#7ad693" stroke="#7ad693" stroke-width="0.5"/>
<path d="M820.0,262.2 L774.9,113.1 L778.6,112.6 L782.4,112.2 L786.1,111.8 L789.9,111.5 L793.6,111.2 L797.4,110.9Z" fill="#ffa767" stroke="#ffa767" stroke-width="0.5"/>
<path d="M820.0,262.2 L797.4,110.9 L801.2,110.7 L804.9,110.5 L808.7,110.4 L812.5,110.3 L816.2,110.2 L820.0,110.2Z" fill="#90d7dd" stroke="#90d7dd" stroke-width="0.5"/>
<text x="820.5" y="49.5" text-anchor="middle" font-size="23.5" font-weight="bold" fill="#58585a">Título do Gráfico</text>
<path d="M784.0,73.5 L912.0,73.5 L912.0,105.8 L837.3,105.8 L831.2,112.2 L805.3,105.8 L784.0,105.8Z" fill="#ffffff" fill-opacity="0.8" stroke="#bcbcbc" stroke-width="1" stroke-linejoin="miter"/>
<text x="848.0" y="86.3" text-anchor="middle" font-size="12" font-weight="bold" fill="#454548">Comunicação Social</text>
<text x="848.0" y="100.3" text-anchor="middle" font-size="12" font-weight="bold" fill="#454548">2%</text>
<path d="M1034.0,157.3 L1086.4,157.3 L1086.4,189.3 L1034.0,189.3 L1034.0,184.0 L1021.0,182.5 L1034.0,176.0Z" fill="#ffffff" fill-opacity="0.8" stroke="#bcbcbc" stroke-width="1" stroke-linejoin="miter"/>
<text x="1060.2" y="170.1" text-anchor="middle" font-size="12" font-weight="bold" fill="#454548">História</text>
<text x="1060.2" y="184.1" text-anchor="middle" font-size="12" font-weight="bold" fill="#454548">31%</text>
<path d="M961.5,502.4 L974.0,502.4 L961.8,457.4 L992.8,502.4 L1036.6,502.4 L1036.6,534.3 L961.5,534.3Z" fill="#ffffff" fill-opacity="0.8" stroke="#bcbcbc" stroke-width="1" stroke-linejoin="miter"/>
<text x="999.0" y="515.2" text-anchor="middle" font-size="12" font-weight="bold" fill="#454548">Museologia</text>
<text x="999.0" y="529.2" text-anchor="middle" font-size="12" font-weight="bold" fill="#454548">20%</text>
<path d="M654.1,527.0 L715.5,527.0 L753.5,482.1 L741.9,527.0 L759.4,527.0 L759.4,573.5 L654.1,573.5Z" fill="#ffffff" fill-opacity="0.8" stroke="#bcbcbc" stroke-width="1" stroke-linejoin="miter"/>
<text x="706.8" y="539.8" text-anchor="middle" font-size="12" font-weight="bold" fill="#454548">Estudos Sociais/</text>
<text x="706.8" y="553.8" text-anchor="middle" font-size="12" font-weight="bold" fill="#454548">Museologia</text>
<text x="706.8" y="567.8" text-anchor="middle" font-size="12" font-weight="bold" fill="#454548">2%</text>
<path d="M643.5,518.5 L690.2,518.5 L721.9,474.3 L710.2,518.5 L723.5,518.5 L723.5,564.1 L643.5,564.1Z" fill="#ffffff" fill-opacity="0.8" stroke="#bcbcbc" stroke-width="1" stroke-linejoin="miter"/>
<text x="683.5" y="531.3" text-anchor="middle" font-size="12" font-weight="bold" fill="#454548">Museologia/</text>
<text x="683.5" y="545.3" text-anchor="middle" font-size="12" font-weight="bold" fill="#454548">História</text>
<text x="683.5" y="559.3" text-anchor="middle" font-size="12" font-weight="bold" fill="#454548">2%</text>
<path d="M583.5,510.3 L647.1,510.3 L692.2,463.7 L674.4,510.3 L692.6,510.3 L692.6,570.6 L583.5,570.6Z" fill="#ffffff" fill-opacity="0.8" stroke="#bcbcbc" stroke-width="1" stroke-linejoin="miter"/>
<text x="638.0" y="523.1" text-anchor="middle" font-size="12" font-weight="bold" fill="#454548">Museologia/</text>
<text x="638.0" y="537.1" text-anchor="middle" font-size="12" font-weight="bold" fill="#454548">Administração de</text>
<text x="638.0" y="551.1" text-anchor="middle" font-size="12" font-weight="bold" fill="#454548">Empresas</text>
<text x="638.0" y="565.1" text-anchor="middle" font-size="12" font-weight="bold" fill="#454548">2%</text>
<path d="M588.8,497.0 L634.8,497.0 L664.9,450.5 L654.5,497.0 L667.6,497.0 L667.6,542.6 L588.8,542.6Z" fill="#ffffff" fill-opacity="0.8" stroke="#bcbcbc" stroke-width="1" stroke-linejoin="miter"/>
<text x="628.2" y="509.8" text-anchor="middle" font-size="12" font-weight="bold" fill="#454548">Museologia/</text>
<text x="628.2" y="523.8" text-anchor="middle" font-size="12" font-weight="bold" fill="#454548">Pintura</text>
<text x="628.2" y="537.8" text-anchor="middle" font-size="12" font-weight="bold" fill="#454548">2%</text>
<path d="M494.1,481.0 L579.9,481.0 L640.4,435.2 L616.7,481.0 L641.2,481.0 L641.2,526.5 L494.1,526.5Z" fill="#ffffff" fill-opacity="0.8" stroke="#bcbcbc" stroke-width="1" stroke-linejoin="miter"/>
<text x="567.7" y="493.8" text-anchor="middle" font-size="12" font-weight="bold" fill="#454548">Arquitetura e Urbnismo/</text>
<text x="567.7" y="507.8" text-anchor="middle" font-size="12" font-weight="bold" fill="#454548">Pintura</text>
<text x="567.7" y="521.8" text-anchor="middle" font-size="12" font-weight="bold" fill="#454548">2%</text>
<path d="M503.5,460.3 L571.8,460.3 L619.0,418.0 L601.1,460.3 L620.6,460.3 L620.6,492.8 L503.5,492.8Z" fill="#ffffff" fill-opacity="0.8" stroke="#bcbcbc" stroke-width="1" stroke-linejoin="miter"/>
<text x="562.0" y="473.1" text-anchor="middle" font-size="12" font-weight="bold" fill="#454548">Educação Artística</text>
<text x="562.0" y="487.1" text-anchor="middle" font-size="12" font-weight="bold" fill="#454548">2%</text>
<path d="M447.6,435.3 L536.9,435.3 L600.9,399.3 L575.1,435.3 L600.6,435.3 L600.6,480.9 L447.6,480.9Z" fill="#ffffff" fill-opacity="0.8" stroke="#bcbcbc" stroke-width="1" stroke-linejoin="miter"/>
<text x="524.1" y="448.1" text-anchor="middle" font-size="12" font-weight="bold" fill="#454548">Museologia/</text>
<text x="524.1" y="462.1" text-anchor="middle" font-size="12" font-weight="bold" fill="#454548">Licenciatura em Ciências</text>
<text x="524.1" y="476.1" text-anchor="middle" font-size="12" font-weight="bold" fill="#454548">2%</text>
<path d="M513.2,416.8 L557.3,416.8 L586.4,379.6 L576.2,416.8 L588.8,416.8 L588.8,448.2 L513.2,448.2Z" fill="#ffffff" fill-opacity="0.8" stroke="#bcbcbc" stroke-width="1" stroke-linejoin="miter"/>
<text x="551.0" y="429.6" text-anchor="middle" font-size="12" font-weight="bold" fill="#454548">Belas Artes</text>
<text x="551.0" y="443.6" text-anchor="middle" font-size="12" font-weight="bold" fill="#454548">2%</text>
<path d="M471.2,389.4 L532.1,389.4 L575.3,359.2 L558.2,389.4 L575.6,389.4 L575.6,435.0 L471.2,435.0Z" fill="#ffffff" fill-opacity="0.8" stroke="#bcbcbc" stroke-width="1" stroke-linejoin="miter"/>
<text x="523.4" y="402.2" text-anchor="middle" font-size="12" font-weight="bold" fill="#454548">Pedagogia/</text>
<text x="523.4" y="416.2" text-anchor="middle" font-size="12" font-weight="bold" fill="#454548">Ciências Sociais</text>
<text x="523.4" y="430.2" text-anchor="middle" font-size="12" font-weight="bold" fill="#454548">2%</text>
<path d="M474.1,360.5 L528.5,360.5 L567.7,338.4 L551.9,360.5 L567.4,360.5 L567.4,418.8 L474.1,418.8Z" fill="#ffffff" fill-opacity="0.8" stroke="#bcbcbc" stroke-width="1" stroke-linejoin="miter"/>
<text x="520.8" y="373.3" text-anchor="middle" font-size="12" font-weight="bold" fill="#454548">Artes Cênicas/</text>
<text x="520.8" y="387.3" text-anchor="middle" font-size="12" font-weight="bold" fill="#454548">Direito</text>
<text x="520.8" y="415.3" text-anchor="middle" font-size="12" font-weight="bold" fill="#454548">2%</text>
<path d="M396.2,346.8 L493.5,346.8 L563.4,317.5 L535.2,346.8 L563.0,346.8 L563.0,378.0 L396.2,378.0Z" fill="#ffffff" fill-opacity="0.8" stroke="#bcbcbc" stroke-width="1" stroke-linejoin="miter"/>
<text x="479.6" y="359.6" text-anchor="middle" font-size="12" font-weight="bold" fill="#454548">Ciências Políticas e Sociais</text>
<text x="479.6" y="373.6" text-anchor="middle" font-size="12" font-weight="bold" fill="#454548">2%</text>
<path d="M457.4,324.7 L518.1,324.7 L562.4,296.9 L544.1,324.7 L561.5,324.7 L561.5,355.9 L457.4,355.9Z" fill="#ffffff" fill-opacity="0.8" stroke="#bcbcbc" stroke-width="1" stroke-linejoin="miter"/>
<text x="509.4" y="337.5" text-anchor="middle" font-size="12" font-weight="bold" fill="#454548">Ciências Sociais</text>
<text x="509.4" y="351.5" text-anchor="middle" font-size="12" font-weight="bold" fill="#454548">2%</text>
<path d="M520.3,302.6 L546.0,302.6 L564.3,276.8 L557.0,302.6 L564.4,302.6 L564.4,333.0 L520.3,333.0Z" fill="#ffffff" fill-opacity="0.8" stroke="#bcbcbc" stroke-width="1" stroke-linejoin="miter"/>
<text x="542.3" y="315.4" text-anchor="middle" font-size="12" font-weight="bold" fill="#454548">Letras</text>
<text x="542.3" y="329.4" text-anchor="middle" font-size="12" font-weight="bold" fill="#454548">2%</text>
<path d="M411.5,235.3 L553.5,235.3 L553.5,242.9 L569.1,257.4 L553.5,254.3 L553.5,280.9 L411.5,280.9Z" fill="#ffffff" fill-opacity="0.8" stroke="#bcbcbc" stroke-width="1" stroke-linejoin="miter"/>
<text x="482.5" y="248.1" text-anchor="middle" font-size="12" font-weight="bold" fill="#454548">Gestão para a Indústria</text>
<text x="482.5" y="262.1" text-anchor="middle" font-size="12" font-weight="bold" fill="#454548">de Petróleo e Gás</text>
<text x="482.5" y="276.1" text-anchor="middle" font-size="12" font-weight="bold" fill="#454548">2%</text>
<path d="M500.6,221.2 L560.3,221.2 L560.3,239.2 L576.4,238.9 L560.3,246.9 L560.3,252.0 L500.6,252.0Z" fill="#ffffff" fill-opacity="0.8" stroke="#bcbcbc" stroke-width="1" stroke-linejoin="miter"/>
<text x="530.5" y="234.0" text-anchor="middle" font-size="12" font-weight="bold" fill="#454548">Geologia</text>
<text x="530.5" y="248.0" text-anchor="middle" font-size="12" font-weight="bold" fill="#454548">2%</text>
<path d="M454.1,193.5 L577.6,193.5 L577.6,212.2 L591.7,213.0 L577.6,220.2 L577.6,225.6 L454.1,225.6Z" fill="#ffffff" fill-opacity="0.8" stroke="#bcbcbc" stroke-width="1" stroke-linejoin="miter"/>
<text x="515.9" y="206.3" text-anchor="middle" font-size="12" font-weight="bold" fill="#454548">Ciências Biológicas</text>
<text x="515.9" y="220.3" text-anchor="middle" font-size="12" font-weight="bold" fill="#454548">3%</text>
<path d="M466.2,165.3 L599.0,165.3 L599.0,183.8 L611.5,189.7 L599.0,191.7 L599.0,197.0 L466.2,197.0Z" fill="#ffffff" fill-opacity="0.8" stroke="#bcbcbc" stroke-width="1" stroke-linejoin="miter"/>
<text x="532.6" y="178.1" text-anchor="middle" font-size="12" font-weight="bold" fill="#454548">Ciências Econômicas</text>
<text x="532.6" y="192.1" text-anchor="middle" font-size="12" font-weight="bold" fill="#454548">2%</text>
<path d="M513.2,148.5 L615.3,148.5 L615.3,166.5 L626.8,175.7 L615.3,174.2 L615.3,179.4 L513.2,179.4Z" fill="#ffffff" fill-opacity="0.8" stroke="#bcbcbc" stroke-width="1" stroke-linejoin="miter"/>
<text x="564.2" y="161.3" text-anchor="middle" font-size="12" font-weight="bold" fill="#454548">Biblioteconomia</text>
<text x="564.2" y="175.3" text-anchor="middle" font-size="12" font-weight="bold" fill="#454548">2%</text>
<path d="M510.9,116.8 L640.3,116.8 L640.3,143.4 L652.4,157.3 L640.3,154.8 L640.3,162.4 L510.9,162.4Z" fill="#ffffff" fill-opacity="0.8" stroke="#bcbcbc" stroke-width="1" stroke-linejoin="miter"/>
<text x="575.6" y="129.6" text-anchor="middle" font-size="12" font-weight="bold" fill="#454548">Comunicação Social-</text>
<text x="575.6" y="143.6" text-anchor="middle" font-size="12" font-weight="bold" fill="#454548">Jornlismo</text>
<text x="575.6" y="157.6" text-anchor="middle" font-size="12" font-weight="bold" fill="#454548">3%</text>
<path d="M625.0,100.0 L683.4,100.0 L683.4,132.0 L673.7,132.0 L690.5,137.5 L659.1,132.0 L625.0,132.0Z" fill="#ffffff" fill-opacity="0.8" stroke="#bcbcbc" stroke-width="1" stroke-linejoin="miter"/>
<text x="654.2" y="112.8" text-anchor="middle" font-size="12" font-weight="bold" fill="#454548">Filosofia</text>
<text x="654.2" y="126.8" text-anchor="middle" font-size="12" font-weight="bold" fill="#454548">3%</text>
<path d="M625.0,88.0 L714.5,88.0 L714.5,120.5 L699.6,120.5 L721.3,126.4 L677.2,120.5 L625.0,120.5Z" fill="#ffffff" fill-opacity="0.8" stroke="#bcbcbc" stroke-width="1" stroke-linejoin="miter"/>
<text x="669.8" y="100.8" text-anchor="middle" font-size="12" font-weight="bold" fill="#454548">Artes Cênicas</text>
<text x="669.8" y="114.8" text-anchor="middle" font-size="12" font-weight="bold" fill="#454548">2%</text>
<path d="M620.0,67.6 L739.0,67.6 L739.0,113.2 L719.2,113.2 L742.7,120.7 L689.4,113.2 L620.0,113.2Z" fill="#ffffff" fill-opacity="0.8" stroke="#bcbcbc" stroke-width="1" stroke-linejoin="miter"/>
<text x="679.5" y="80.4" text-anchor="middle" font-size="12" font-weight="bold" fill="#454548">História Moderna e</text>
<text x="679.5" y="94.4" text-anchor="middle" font-size="12" font-weight="bold" fill="#454548">Contemporânea</text>
<text x="679.5" y="108.4" text-anchor="middle" font-size="12" font-weight="bold" fill="#454548">2%</text>
<path d="M654.3,63.2 L758.7,63.2 L758.7,109.3 L741.3,109.3 L764.4,116.5 L715.2,109.3 L654.3,109.3Z" fill="#ffffff" fill-opacity="0.8" stroke="#bcbcbc" stroke-width="1" stroke-linejoin="miter"/>
<text x="706.5" y="76.0" text-anchor="middle" font-size="12" font-weight="bold" fill="#454548">Engenharia Civil/</text>
<text x="706.5" y="90.0" text-anchor="middle" font-size="12" font-weight="bold" fill="#454548">História</text>
<text x="706.5" y="104.0" text-anchor="middle" font-size="12" font-weight="bold" fill="#454548">2%</text>
<path d="M705.0,76.0 L798.0,76.0 L798.0,107.3 L782.5,107.3 L786.5,113.6 L759.2,107.3 L705.0,107.3Z" fill="#ffffff" fill-opacity="0.8" stroke="#bcbcbc" stroke-width="1" stroke-linejoin="miter"/>
<text x="751.5" y="88.8" text-anchor="middle" font-size="12" font-weight="bold" fill="#454548">Direito/História</text>
<text x="751.5" y="102.8" text-anchor="middle" font-size="12" font-weight="bold" fill="#454548">2%</text>
<path d="M722.0,59.4 L859.0,59.4 L859.0,105.3 L836.2,105.3 L808.8,112.2 L801.9,105.3 L722.0,105.3Z" fill="#ffffff" fill-opacity="0.8" stroke="#bcbcbc" stroke-width="1" stroke-linejoin="miter"/>
<text x="790.5" y="72.2" text-anchor="middle" font-size="12" font-weight="bold" fill="#454548">História/Comunicação</text>
<text x="790.5" y="86.2" text-anchor="middle" font-size="12" font-weight="bold" fill="#454548">Social Jornalismo/</text>
<text x="790.5" y="100.2" text-anchor="middle" font-size="12" font-weight="bold" fill="#454548">2%</text>
</svg>
</body></html>
